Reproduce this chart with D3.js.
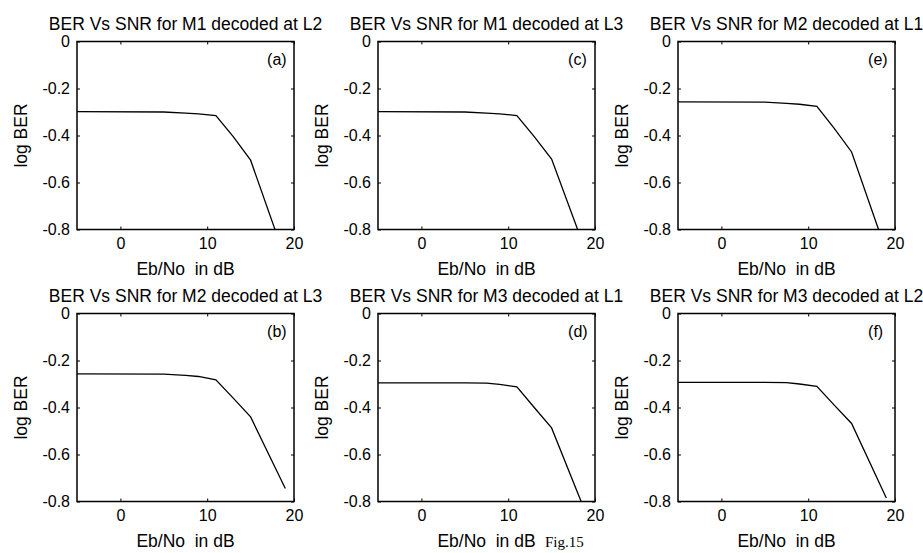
<!DOCTYPE html>
<html>
<head>
<meta charset="utf-8">
<script src="https://cdn.jsdelivr.net/npm/d3@7"></script>
<style>
  body { margin: 0; background: #fff; }
  svg { display: block; }
</style>
</head>
<body>
<div id="chart"></div>
<script>
// SNR breakpoints (dB) shared by all six panels
const snr = [-5, 5, 7.5, 9, 11, 13, 15, 19];

// log BER
const berM1L2 = [-0.298, -0.300, -0.305, -0.308, -0.315, -0.405, -0.505, -0.925];
const berM1L3 = [-0.298, -0.300, -0.305, -0.308, -0.315, -0.405, -0.500, -0.900];
const berM2L1 = [-0.257, -0.258, -0.263, -0.267, -0.276, -0.370, -0.470, -0.895];
const berM2L3 = [-0.257, -0.258, -0.263, -0.268, -0.282, -0.360, -0.440, -0.745];
const berM3L1 = [-0.295, -0.295, -0.296, -0.302, -0.312, -0.400, -0.487, -0.855];
const berM3L2 = [-0.293, -0.293, -0.294, -0.300, -0.310, -0.390, -0.468, -0.785];

const titles = [
  "BER Vs SNR for M1 decoded at L2", "BER Vs SNR for M1 decoded at L3", "BER Vs SNR for M2 decoded at L1",
  "BER Vs SNR for M2 decoded at L3", "BER Vs SNR for M3 decoded at L1", "BER Vs SNR for M3 decoded at L2"
];
const tags = ["(a)", "(c)", "(e)", "(b)", "(d)", "(f)"];
const series = [berM1L2, berM1L3, berM2L1, berM2L3, berM3L1, berM3L2];

const xTicks = [0, 10, 20];
const yTicks = [0, -0.2, -0.4, -0.6, -0.8];

const width = 923, height = 553;
const plotW = 217, plotH = 188;
const colX = [77, 378, 678];
const rowY = [41.5, 313.5];

const svg = d3.select("#chart").append("svg")
  .attr("width", width)
  .attr("height", height)
  .attr("font-family", "Liberation Sans, Arial, sans-serif");

const x = d3.scaleLinear().domain([-5, 20]).range([0, plotW]);
const y = d3.scaleLinear().domain([-0.8, 0]).range([plotH, 0]);
const fmt = d => d === 0 ? "0" : String(d);

const line = d3.line()
  .x(d => x(d[0]))
  .y(d => y(d[1]));

svg.append("defs").append("clipPath")
  .attr("id", "plot-clip")
  .append("rect")
  .attr("width", plotW)
  .attr("height", plotH);

series.forEach((ber, i) => {
  const g = svg.append("g")
    .attr("transform", `translate(${colX[i % 3]},${rowY[Math.floor(i / 3)]})`);

  // axes with inward ticks on all four sides
  const ax = g.append("g").attr("class", "axes");
  ax.append("g")
    .attr("transform", `translate(0,${plotH})`)
    .call(d3.axisBottom(x).tickValues(xTicks).tickFormat(fmt).tickSizeInner(-3).tickSizeOuter(0).tickPadding(8));
  ax.append("g")
    .call(d3.axisTop(x).tickValues(xTicks).tickFormat("").tickSizeInner(-3).tickSizeOuter(0));
  ax.append("g")
    .call(d3.axisLeft(y).tickValues(yTicks).tickFormat(fmt).tickSizeInner(-3).tickSizeOuter(0).tickPadding(7));
  ax.append("g")
    .attr("transform", `translate(${plotW},0)`)
    .call(d3.axisRight(y).tickValues(yTicks).tickFormat("").tickSizeInner(-3).tickSizeOuter(0));
  ax.selectAll(".domain").remove();
  ax.selectAll(".tick line").attr("stroke", "#000").attr("stroke-width", 1);
  ax.selectAll(".tick text")
    .attr("fill", "#000")
    .attr("font-size", 16)
    .attr("font-family", "Liberation Sans, Arial, sans-serif");

  g.append("rect")
    .attr("width", plotW)
    .attr("height", plotH)
    .attr("fill", "none")
    .attr("stroke", "#000")
    .attr("stroke-width", 1.5);

  g.append("path")
    .datum(snr.map((s, k) => [s, ber[k]]))
    .attr("clip-path", "url(#plot-clip)")
    .attr("fill", "none")
    .attr("stroke", "#000")
    .attr("stroke-width", 1.3)
    .attr("d", line);

  g.append("text")
    .attr("x", x(16.9))
    .attr("y", y(-0.075))
    .attr("dy", "0.35em")
    .attr("font-size", 16)
    .text(tags[i]);

  g.append("text")
    .attr("x", plotW / 2)
    .attr("y", -12)
    .attr("text-anchor", "middle")
    .attr("font-size", 17.5)
    .text(titles[i]);

  g.append("text")
    .attr("x", plotW / 2)
    .attr("y", plotH + 45)
    .attr("text-anchor", "middle")
    .attr("font-size", 17.5)
    .style("white-space", "pre")
    .text("Eb/No  in dB");

  g.append("text")
    .attr("transform", `translate(-50,${plotH / 2}) rotate(-90)`)
    .attr("text-anchor", "middle")
    .attr("font-size", 17.5)
    .text("log BER");
});

svg.append("text")
  .attr("x", 545)
  .attr("y", 547)
  .attr("font-family", "Liberation Serif, Times New Roman, serif")
  .attr("font-size", 15)
  .text("Fig.15");
</script>
</body>
</html>
